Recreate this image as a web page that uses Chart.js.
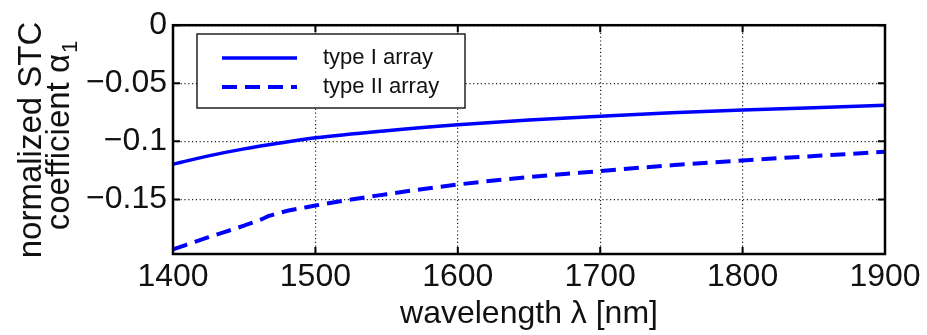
<!DOCTYPE html>
<html>
<head>
<meta charset="utf-8">
<script src="https://cdn.jsdelivr.net/npm/chart.js@4"></script>
<style>
  html, body { margin: 0; padding: 0; background: #fff; }
  #wrap { width: 927px; height: 335px; }
</style>
</head>
<body>
<div id="wrap"><canvas id="chart1" width="927" height="335"></canvas></div>
<script>
var wavelength1 = [1400, 1425, 1450, 1475, 1500, 1550, 1600, 1650, 1700, 1750, 1800, 1850, 1900];
var typeOne = [-0.1197, -0.1125, -0.1065, -0.1015, -0.097, -0.0908, -0.0858, -0.0817, -0.0783, -0.0754, -0.073, -0.071, -0.069];
var wavelength2 = [1400, 1425, 1450, 1462, 1468, 1500, 1550, 1600, 1650, 1700, 1750, 1800, 1850, 1900];
var typeTwo = [-0.193, -0.1825, -0.1725, -0.1672, -0.1640, -0.1553, -0.1455, -0.1372, -0.1308, -0.1256, -0.1206, -0.1164, -0.1127, -0.109];
var xTicks = [1400, 1500, 1600, 1700, 1800, 1900];
var yTicks = [-0.15, -0.1, -0.05, 0];
var seriesNames = ['type I array', 'type II array'];

var FONT = '"Liberation Sans", Arial, sans-serif';

function pts(xs, ys) {
    return xs.map(function (x, i) { return {x: x, y: ys[i]}; });
}

// box, inward tick marks, legend and y title
var decor = {
    id: 'decor',
    afterDraw: function (chart) {
        var c = chart.ctx, a = chart.chartArea;
        var xs = chart.scales.x, ys = chart.scales.y;
        c.save();
        c.strokeStyle = '#000';
        c.lineWidth = 2;
        c.setLineDash([]);
        xTicks.forEach(function (t) {
            var px = xs.getPixelForValue(t);
            c.beginPath();
            c.moveTo(px, a.bottom); c.lineTo(px, a.bottom - 7);
            c.moveTo(px, a.top); c.lineTo(px, a.top + 7);
            c.stroke();
        });
        yTicks.forEach(function (t) {
            var py = ys.getPixelForValue(t);
            c.beginPath();
            c.moveTo(a.left, py); c.lineTo(a.left + 7, py);
            c.moveTo(a.right, py); c.lineTo(a.right - 7, py);
            c.stroke();
        });
        c.lineWidth = 2.5;
        c.strokeRect(a.left, a.top, a.right - a.left, a.bottom - a.top);

        // legend
        c.fillStyle = '#fff';
        c.fillRect(197, 34, 268, 74);
        c.lineWidth = 1.5;
        c.strokeStyle = '#222';
        c.strokeRect(197, 34, 268, 74);
        var ds = chart.data.datasets;
        [58, 87].forEach(function (ly, i) {
            c.strokeStyle = ds[i].borderColor;
            c.lineWidth = ds[i].borderWidth;
            c.setLineDash(ds[i].borderDash || []);
            c.beginPath();
            c.moveTo(222, ly); c.lineTo(297, ly);
            c.stroke();
            c.setLineDash([]);
            c.fillStyle = '#111';
            c.font = '22px ' + FONT;
            c.textAlign = 'left';
            c.textBaseline = 'middle';
            c.fillText(seriesNames[i], 323, ly);
        });

        // y title
        c.fillStyle = '#111';
        c.font = '33px ' + FONT;
        c.textBaseline = 'alphabetic';
        c.translate(41, 140);
        c.rotate(-Math.PI / 2);
        c.textAlign = 'center';
        c.fillText('normalized STC', 0, 0);
        var main = 'coefficient α';
        var w1 = c.measureText(main).width;
        c.font = '22px ' + FONT;
        var w2 = c.measureText('1').width;
        var start = -(w1 + w2) / 2 + 4;
        c.textAlign = 'left';
        c.font = '33px ' + FONT;
        c.fillText(main, start, 28);
        c.font = '22px ' + FONT;
        c.fillText('1', start + w1 + 1, 36);
        c.restore();
    }
};

var gridOpts = { color: '#222', lineWidth: 1.2, drawTicks: false };
var borderOpts = { display: false, dash: [1.2, 2.6] };

var config = {
    type: 'line',
    data: {
        datasets: [
            {
                label: seriesNames[0],
                data: pts(wavelength1, typeOne),
                borderColor: '#0000ff',
                borderWidth: 3.5,
                pointRadius: 0,
                cubicInterpolationMode: 'monotone',
                fill: false
            },
            {
                label: seriesNames[1],
                data: pts(wavelength2, typeTwo),
                borderColor: '#0000ff',
                borderWidth: 4,
                borderDash: [15, 8],
                pointRadius: 0,
                cubicInterpolationMode: 'monotone',
                fill: false
            }
        ]
    },
    options: {
        responsive: false,
        animation: false,
        layout: { padding: { top: 18, right: 42, left: 0, bottom: 0 } },
        plugins: {
            legend: { display: false },
            tooltip: { enabled: false }
        },
        scales: {
            x: {
                type: 'linear',
                min: 1400,
                max: 1900,
                afterBuildTicks: function (s) { s.ticks = xTicks.map(function (v) { return {value: v}; }); },
                afterFit: function (s) { s.height = 81; },
                border: borderOpts,
                grid: gridOpts,
                ticks: {
                    color: '#111',
                    padding: 4,
                    maxRotation: 0,
                    font: { family: FONT, size: 32 },
                    callback: function (v) { return String(v); }
                },
                title: {
                    display: true,
                    text: 'wavelength λ [nm]',
                    color: '#111',
                    font: { family: FONT, size: 32 },
                    padding: { top: 0, bottom: 2 }
                }
            },
            y: {
                min: -0.197,
                max: 0,
                afterBuildTicks: function (s) { s.ticks = yTicks.map(function (v) { return {value: v}; }); },
                afterFit: function (s) { s.width = 173; },
                border: borderOpts,
                grid: gridOpts,
                ticks: {
                    color: '#111',
                    padding: 6,
                    font: { family: FONT, size: 32 },
                    callback: function (v) { return v === 0 ? '0' : '\u2212' + String(Math.abs(v)); }
                }
            }
        }
    },
    plugins: [decor]
};

var myChart = new Chart(document.getElementById('chart1'), config);
</script>
</body>
</html>
